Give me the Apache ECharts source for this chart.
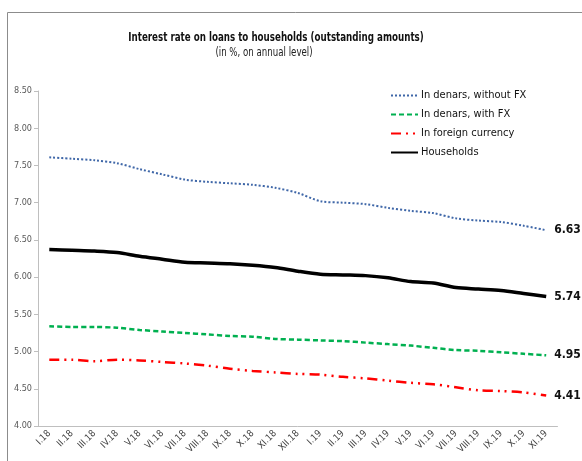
<!DOCTYPE html>
<html>
<head>
<meta charset="utf-8">
<script src="https://cdn.jsdelivr.net/npm/echarts@6/dist/echarts.min.js"></script>
<style>
  html, body { margin: 0; padding: 0; background: #fff; }
  #chart { width: 582px; height: 461px; }
</style>
</head>
<body>
<div id="chart"></div>
<script>
const months = ['I.18', 'II.18', 'III.18', 'IV.18', 'V.18', 'VI.18', 'VII.18', 'VIII.18', 'IX.18', 'X.18', 'XI.18', 'XII.18',
  'I.19', 'II.19', 'III.19', 'IV.19', 'V.19', 'VI.19', 'VII.19', 'VIII.19', 'IX.19', 'X.19', 'XI.19'];

const denarsNoFx = [7.61, 7.59, 7.57, 7.53, 7.45, 7.38, 7.31, 7.28, 7.26, 7.24, 7.20, 7.13,
  7.02, 7.00, 6.98, 6.93, 6.89, 6.86, 6.79, 6.76, 6.74, 6.69, 6.63];
const denarsFx = [5.34, 5.33, 5.33, 5.32, 5.29, 5.27, 5.25, 5.23, 5.21, 5.20, 5.17, 5.16,
  5.15, 5.14, 5.12, 5.10, 5.08, 5.05, 5.02, 5.01, 4.99, 4.97, 4.95];
const foreignCcy = [4.89, 4.89, 4.87, 4.89, 4.88, 4.86, 4.84, 4.81, 4.77, 4.74, 4.72, 4.70,
  4.69, 4.66, 4.64, 4.61, 4.58, 4.56, 4.52, 4.48, 4.47, 4.45, 4.41];
const households = [6.37, 6.36, 6.35, 6.33, 6.28, 6.24, 6.20, 6.19, 6.18, 6.16, 6.13, 6.08,
  6.04, 6.03, 6.02, 5.99, 5.94, 5.92, 5.86, 5.84, 5.82, 5.78, 5.74];

const font = '"DejaVu Sans Condensed", sans-serif';

function makeLine(name, values, color, width, type) {
  return {
    name: name,
    type: 'line',
    data: values,
    smooth: 0.3,
    symbol: 'none',
    lineStyle: { color: color, width: width, type: type, cap: 'butt' },
    itemStyle: { color: color },
    endLabel: {
      show: true, distance: 8, formatter: p => p.value.toFixed(2),
      fontFamily: font, fontWeight: 'bold', fontSize: 12, color: '#111'
    },
    emphasis: { disabled: true },
    z: name === 'Households' ? 3 : 2
  };
}

const chart = echarts.init(document.getElementById('chart'), null, { renderer: 'canvas' });
chart.setOption({
  animation: false,
  backgroundColor: '#fff',
  graphic: [{
    type: 'rect',
    shape: { x: 7.5, y: 12.5, width: 700, height: 600 },
    style: { fill: null, stroke: '#8c8c8c', lineWidth: 1 },
    silent: true
  }, {
    type: 'text',
    x: 276,
    y: 38,
    scaleX: 0.775,
    style: {
      text: 'Interest rate on loans to households (outstanding amounts)',
      font: 'bold 12.5px "DejaVu Sans Condensed", sans-serif',
      fill: '#111',
      align: 'center',
      verticalAlign: 'middle'
    }
  }, {
    type: 'text',
    x: 264,
    y: 52.5,
    scaleX: 0.8,
    style: {
      text: '(in %, on annual level)',
      font: '12px "DejaVu Sans Condensed", sans-serif',
      fill: '#222',
      align: 'center',
      verticalAlign: 'middle'
    }
  }],
  legend: {
    orient: 'vertical',
    left: 390,
    top: 89.5,
    padding: 0,
    itemWidth: 27,
    itemHeight: 12,
    itemGap: 7,
    itemStyle: { opacity: 0 },
    textStyle: { fontFamily: font, fontSize: 11, lineHeight: 12, color: '#111', padding: [0, 0, 0, -2] },
    data: ['In denars, without FX', 'In denars, with FX', 'In foreign currency', 'Households']
  },
  grid: { left: 38, right: 24.5, top: 91, bottom: 35, containLabel: false },
  xAxis: {
    type: 'category',
    data: months,
    boundaryGap: true,
    axisLine: { lineStyle: { color: '#bfbfbf' } },
    axisTick: { show: false },
    axisLabel: { rotate: 45, interval: 0, fontFamily: font, fontSize: 9.5, color: '#404040', margin: 6 },
    splitLine: { show: false }
  },
  yAxis: {
    type: 'value',
    min: 4,
    max: 8.5,
    interval: 0.5,
    axisLine: { show: true, lineStyle: { color: '#bfbfbf' } },
    axisTick: { show: true, length: 4, lineStyle: { color: '#bfbfbf' } },
    axisLabel: { formatter: v => v.toFixed(2), fontFamily: font, fontSize: 9, color: '#595959', margin: 6 },
    splitLine: { show: false }
  },
  series: [
    makeLine('In denars, without FX', denarsNoFx, '#3f67a8', 2, [2, 2]),
    makeLine('In denars, with FX', denarsFx, '#00b050', 2.5, [5, 3]),
    makeLine('In foreign currency', foreignCcy, '#ff0000', 2.5, [10, 5, 2, 5, 2, 5]),
    makeLine('Households', households, '#000000', 3.5, 'solid')
  ]
});
</script>
</body>
</html>
